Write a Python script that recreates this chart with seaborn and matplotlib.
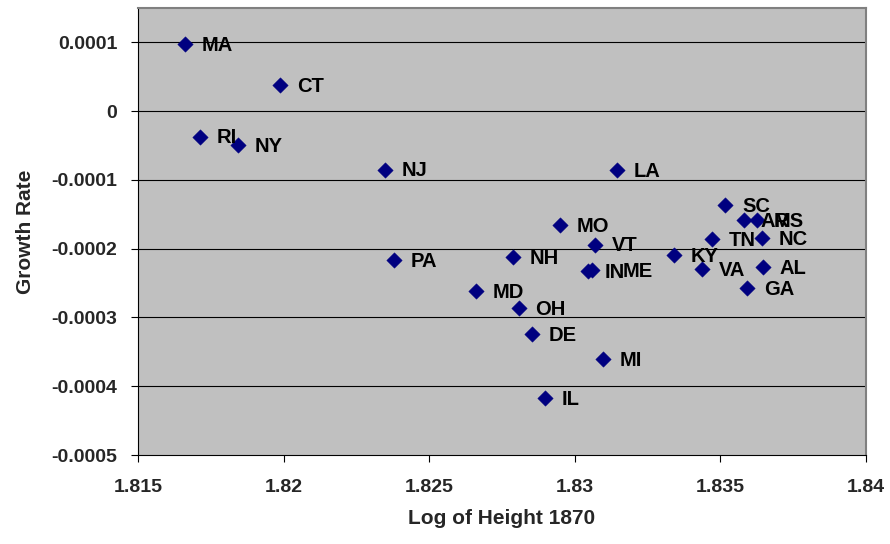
import matplotlib
matplotlib.use("Agg")
import matplotlib.pyplot as plt
import seaborn as sns
import pandas as pd

# State codes, log of average height in 1870, and growth rate
states = ["MA", "CT", "RI", "NY", "NJ", "PA", "LA", "MO", "VT", "NH", "IN", "ME",
          "KY", "MD", "OH", "DE", "MI", "IL", "SC", "AR", "MS", "TN", "NC", "VA",
          "AL", "GA"]
log_height = [1.81661, 1.81989, 1.81712, 1.81844, 1.82348, 1.82380, 1.83144, 1.82948,
              1.83071, 1.82787, 1.83046, 1.83058, 1.83342, 1.82659, 1.82808, 1.82854,
              1.83097, 1.82896, 1.83517, 1.83581, 1.83627, 1.83470, 1.83644, 1.83436,
              1.83646, 1.83593]
growth_rate = [0.97e-4, 0.38e-4, -0.37e-4, -0.49e-4, -0.85e-4, -2.16e-4, -0.86e-4,
               -1.65e-4, -1.94e-4, -2.12e-4, -2.33e-4, -2.31e-4, -2.09e-4, -2.62e-4,
               -2.86e-4, -3.24e-4, -3.61e-4, -4.17e-4, -1.37e-4, -1.59e-4, -1.59e-4,
               -1.86e-4, -1.85e-4, -2.30e-4, -2.27e-4, -2.57e-4]

x_ticks = [1.815, 1.82, 1.825, 1.83, 1.835, 1.84]
x_tick_labels = ["1.815", "1.82", "1.825", "1.83", "1.835", "1.84"]
y_ticks = [0.0001, 0, -0.0001, -0.0002, -0.0003, -0.0004, -0.0005]
y_tick_labels = ["0.0001", "0", "-0.0001", "-0.0002", "-0.0003", "-0.0004", "-0.0005"]

df = pd.DataFrame({"state": states, "log_height": log_height, "growth": growth_rate})

sns.set_style("white")
plt.rcParams["font.family"] = ["Liberation Sans", "DejaVu Sans"]
plt.rcParams["font.weight"] = "bold"

fig = plt.figure(figsize=(8.9, 5.44), dpi=100)
ax = fig.add_axes([138 / 890, 1 - 455 / 544, 728 / 890, 447 / 544])
ax.set_facecolor("#C0C0C0")

ax.set_xlim(1.815, 1.84)
ax.set_ylim(-0.0005, 0.00015)
ax.set_yticks(y_ticks)
ax.set_yticklabels(y_tick_labels)
ax.set_xticks(x_ticks)
ax.set_xticklabels(x_tick_labels)

for yv in y_ticks[:-1]:
    ax.axhline(yv, color="black", linewidth=0.8, zorder=1)

sns.scatterplot(data=df, x="log_height", y="growth", ax=ax, marker="D",
                s=62, color="#000080", edgecolor="#000080", linewidth=0.3,
                zorder=3, legend=False)

# ME sits right on top of IN, so its label is pushed further right
label_dx = {"ME": 22}
for name, xv, yv in zip(states, log_height, growth_rate):
    ax.annotate(name, (xv, yv), xytext=(label_dx.get(name, 12), -1),
                textcoords="offset points", ha="left", va="center",
                fontsize=14.5, fontweight="bold", color="black", zorder=4)

ax.tick_params(axis="both", direction="out", length=5, width=0.8, color="black",
               labelsize=14, pad=10)
ax.tick_params(axis="x", pad=12)
ax.tick_params(left=True, bottom=True)
for lbl in ax.get_xticklabels() + ax.get_yticklabels():
    lbl.set_fontweight("bold")

ax.spines["left"].set_color("black")
ax.spines["bottom"].set_color("black")
ax.spines["left"].set_linewidth(0.8)
ax.spines["bottom"].set_linewidth(0.8)
ax.spines["top"].set_color("#808080")
ax.spines["right"].set_color("#808080")
ax.spines["top"].set_linewidth(1.5)
ax.spines["right"].set_linewidth(1.5)

ax.set_xlabel("Log of Height 1870", fontsize=15, fontweight="bold", labelpad=10)
ax.set_ylabel("Growth Rate", fontsize=15, fontweight="bold", labelpad=12)

fig.savefig("out.png", dpi=100, facecolor="white")
